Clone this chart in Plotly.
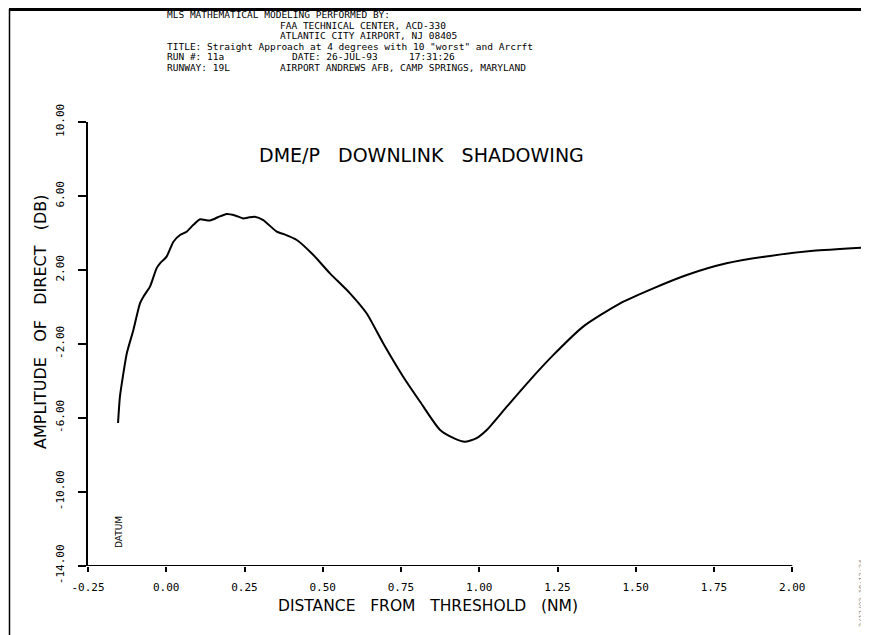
import plotly.graph_objects as go

# ---------------- data ----------------
distance_nm = [-0.154, -0.148, -0.137, -0.126, -0.105, -0.084, -0.073, -0.052, -0.031, -0.020,
               0.001, 0.023, 0.044, 0.065, 0.086, 0.108, 0.125, 0.140, 0.165, 0.193,
               0.220, 0.246, 0.265, 0.283, 0.310, 0.353, 0.374, 0.417, 0.470, 0.523,
               0.587, 0.640, 0.693, 0.757, 0.811, 0.875, 0.920, 0.954, 0.990, 1.024,
               1.088, 1.162, 1.237, 1.332, 1.450, 1.556, 1.663, 1.790, 1.929, 2.067, 2.243]
amplitude_db = [-6.27, -4.85, -3.59, -2.50, -1.24, 0.20, 0.56, 1.10, 2.09, 2.36,
                2.72, 3.53, 3.89, 4.07, 4.43, 4.74, 4.70, 4.68, 4.85, 5.03,
                4.95, 4.79, 4.85, 4.88, 4.70, 4.07, 3.95, 3.62, 2.81, 1.82,
                0.74, -0.34, -1.96, -3.77, -5.12, -6.65, -7.10, -7.28, -7.10, -6.65,
                -5.39, -3.95, -2.59, -1.06, 0.20, 1.01, 1.73, 2.36, 2.76, 3.04, 3.23]

x_tick_vals = [-0.25, 0.00, 0.25, 0.50, 0.75, 1.00, 1.25, 1.50, 1.75, 2.00]
x_tick_text = ["-0.25", "0.00", "0.25", "0.50", "0.75", "1.00", "1.25", "1.50", "1.75", "2.00"]
y_tick_vals = [10, 6, 2, -2, -6, -10, -14]
y_tick_text = ["10.00", "6.00", "2.00", "-2.00", "-6.00", "-10.00", "-14.00"]

header_lines = [
    "MLS MATHEMATICAL MODELING PERFORMED BY:",
    "FAA TECHNICAL CENTER, ACD-330",
    "ATLANTIC CITY AIRPORT, NJ 08405",
    "TITLE: Straight Approach at 4 degrees with 10 \"worst\" and Arcrft",
    "RUN #: 11a",
    "DATE: 26-JUL-93",
    "17:31:26",
    "RUNWAY: 19L",
    "AIRPORT ANDREWS AFB, CAMP SPRINGS, MARYLAND",
]

# ---------------- layout geometry ----------------
# the page body adds an 8px offset, so the figure is 8px smaller than the window
OFF = 8
W, H = 861, 627
ML, MR, MT, MB = 80, 0, 114, 69
PW = W - ML - MR
PH = H - MT - MB


def px(page_x):
    return (page_x - OFF - ML) / PW


def py(page_y):
    return (H - MB - (page_y - OFF)) / PH


NB = "\u00a0"
MONO = "DejaVu Sans Mono"
SANS = "DejaVu Sans"

fig = go.Figure()
fig.add_trace(go.Scatter(
    x=distance_nm, y=amplitude_db, mode="lines",
    line=dict(color="black", width=2, shape="spline", smoothing=0.6),
    hoverinfo="skip", showlegend=False,
))

annotations = []
# header block (positions given in window pixels)
header_pos = [
    (165, 15), (278, 25.4), (278, 35.8), (165, 46.2),
    (165, 56.6), (290, 56.6), (407, 56.6),
    (165, 67), (278, 67),
]
for text, (xp, yp) in zip(header_lines, header_pos):
    annotations.append(dict(
        text=text, xref="paper", yref="paper", x=px(xp), y=py(yp),
        xanchor="left", yanchor="middle", showarrow=False,
        font=dict(family=MONO, size=9.5, color="black"),
    ))

# chart title
annotations.append(dict(
    text=("DME/P" + NB * 3 + "DOWNLINK" + NB * 3 + "SHADOWING"),
    xref="paper", yref="paper",
    x=px(421), y=py(155), xanchor="center", yanchor="middle", showarrow=False,
    font=dict(family=SANS, size=19, color="black"),
))
# axis titles
annotations.append(dict(
    text=("DISTANCE" + NB * 3 + "FROM" + NB * 3 + "THRESHOLD" + NB * 3 + "(NM)"),
    xref="paper", yref="paper",
    x=px(428), y=py(606), xanchor="center", yanchor="middle", showarrow=False,
    font=dict(family=SANS, size=15.5, color="black"),
))
annotations.append(dict(
    text=("AMPLITUDE" + NB * 3 + "OF" + NB * 3 + "DIRECT" + NB * 3 + "(DB)"),
    xref="paper", yref="paper",
    x=px(40), y=py(322), xanchor="center", yanchor="middle", showarrow=False,
    textangle=-90, font=dict(family=SANS, size=16, color="black"),
))
# datum label
annotations.append(dict(
    text="DATUM", xref="paper", yref="paper",
    x=px(119), y=py(532), xanchor="center", yanchor="middle", showarrow=False,
    textangle=-90, font=dict(family=SANS, size=9, color="black"),
))
# faint plot stamp at right edge
annotations.append(dict(
    text="3/12/93 10:13:34", xref="paper", yref="paper",
    x=px(862), y=py(594), xanchor="center", yanchor="middle", showarrow=False,
    textangle=-90, font=dict(family=MONO, size=7, color="#888888"),
))

shapes = [
    # x-axis baseline, ending at 2.00
    dict(type="line", xref="x", yref="y", x0=-0.25, x1=2.0, y0=-14, y1=-14,
         line=dict(color="black", width=2)),
    # scan frame: top and left borders
    dict(type="line", xref="paper", yref="paper", x0=px(9), x1=px(869), y0=py(9.5), y1=py(9.5),
         line=dict(color="black", width=3)),
    dict(type="line", xref="paper", yref="paper", x0=px(9.5), x1=px(9.5), y0=py(9), y1=py(635),
         line=dict(color="black", width=1.5)),
]

fig.update_layout(
    width=W, height=H,
    margin=dict(l=ML, r=MR, t=MT, b=MB, pad=0),
    paper_bgcolor="white", plot_bgcolor="white",
    showlegend=False,
    annotations=annotations,
    shapes=shapes,
    xaxis=dict(
        range=[-0.25, -0.25 + PW / 313.0],
        tickmode="array", tickvals=x_tick_vals, ticktext=x_tick_text,
        ticks="outside", ticklen=5, tickwidth=1.5, tickcolor="black",
        showline=False, showgrid=False, zeroline=False,
        tickfont=dict(family=MONO, size=11, color="black"),
        ticklabelstandoff=6, automargin=False,
    ),
    yaxis=dict(
        range=[-14, 10],
        tickmode="array", tickvals=y_tick_vals, ticktext=y_tick_text,
        tickangle=-90,
        ticks="outside", ticklen=8, tickwidth=1.5, tickcolor="black",
        showline=True, linecolor="black", linewidth=2,
        showgrid=False, zeroline=False,
        tickfont=dict(family=MONO, size=11, color="black"),
        ticklabelstandoff=10, automargin=False,
    ),
)

fig.write_html("out.html")
